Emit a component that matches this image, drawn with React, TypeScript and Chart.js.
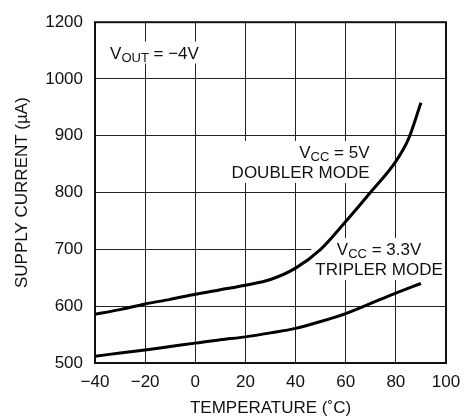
import React, { useEffect, useRef } from "react";
import { Chart, registerables } from "chart.js";

Chart.register(...registerables);

const doublerTemps = [-40, -30, -20, -10, 0, 10, 20, 30, 40, 50, 60, 70, 80, 85, 90];
const doublerCurrent = [586, 594, 604, 612, 621, 629, 637, 647, 667, 700, 749, 801, 855, 894, 958];
const triplerTemps = [-40, -30, -20, -10, 0, 10, 20, 30, 40, 50, 60, 70, 80, 90];
const triplerCurrent = [512, 517.5, 523, 529, 535, 541, 546, 553, 561, 573, 587, 605, 623, 640];

const xTickLabels = ["\u221240", "\u221220", "0", "20", "40", "60", "80", "100"];
const yTickLabels = ["500", "600", "700", "800", "900", "1000", "1200"];

const xTitle = "TEMPERATURE (\u02DAC)";
const yTitle = "SUPPLY CURRENT (\u00B5A)";

const FONT = "'Liberation Sans Narrow', 'Arial Narrow', 'Liberation Sans', sans-serif";

type Part = { t: string; sub?: boolean };
type Note = { x: number; y: number; align: "left" | "right" | "center"; lines: Part[][] };

const notes: Note[] = [
  { x: -34, y: 1036, align: "left", lines: [[{ t: "V" }, { t: "OUT", sub: true }, { t: " = \u22124V" }]] },
  {
    x: 69.5,
    y: 861,
    align: "right",
    lines: [[{ t: "V" }, { t: "CC", sub: true }, { t: " = 5V" }], [{ t: "DOUBLER MODE" }]],
  },
  {
    x: 73.3,
    y: 690,
    align: "center",
    lines: [[{ t: "V" }, { t: "CC", sub: true }, { t: " = 3.3V" }], [{ t: "TRIPLER MODE" }]],
  },
];

const MAIN = 17;
const SUB = 13;
const LINE_H = 20;

function partWidth(ctx: CanvasRenderingContext2D, parts: Part[]) {
  let w = 0;
  for (const p of parts) {
    ctx.font = `${p.sub ? SUB : MAIN}px ${FONT}`;
    w += ctx.measureText(p.t).width;
  }
  return w;
}

const notesPlugin = {
  id: "notes",
  beforeDatasetsDraw(chart: any) {
    const ctx: CanvasRenderingContext2D = chart.ctx;
    const xs = chart.scales.x;
    const ys = chart.scales.y;
    ctx.save();
    for (const n of notes) {
      const px = xs.getPixelForValue(n.x);
      const py = ys.getPixelForValue(n.y);
      const widths = n.lines.map((l) => partWidth(ctx, l));
      const maxW = Math.max(...widths);
      const left = n.align === "left" ? px : n.align === "right" ? px - maxW : px - maxW / 2;
      const top = py - 13 - 4;
      const bottom = py + (n.lines.length - 1) * LINE_H + 5;
      ctx.fillStyle = "#fff";
      ctx.fillRect(left - 4, top, maxW + 8, bottom - top);
      ctx.fillStyle = "#111";
      ctx.textBaseline = "alphabetic";
      ctx.textAlign = "left";
      n.lines.forEach((line, i) => {
        const w = widths[i];
        let x = n.align === "left" ? px : n.align === "right" ? px - w : px - w / 2;
        const y = py + i * LINE_H;
        for (const p of line) {
          ctx.font = `${p.sub ? SUB : MAIN}px ${FONT}`;
          ctx.fillText(p.t, x, p.sub ? y + 3 : y);
          x += ctx.measureText(p.t).width;
        }
      });
    }
    ctx.restore();
  },
  afterDraw(chart: any) {
    const ctx: CanvasRenderingContext2D = chart.ctx;
    const a = chart.chartArea;
    ctx.save();
    ctx.strokeStyle = "#111";
    ctx.lineWidth = 2;
    ctx.strokeRect(a.left, a.top, a.right - a.left, a.bottom - a.top);
    ctx.fillStyle = "#111";
    ctx.font = `${MAIN}px ${FONT}`;
    ctx.textAlign = "center";
    ctx.textBaseline = "middle";
    ctx.fillText(xTitle, (a.left + a.right) / 2, 408);
    ctx.translate(22, (a.top + a.bottom) / 2);
    ctx.rotate(-Math.PI / 2);
    ctx.fillText(yTitle, 0, 0);
    ctx.restore();
  },
};

export default function App() {
  const ref = useRef<HTMLCanvasElement>(null);
  useEffect(() => {
    if (!ref.current) return;
    const chart = new Chart(ref.current, {
      type: "line",
      data: {
        datasets: [
          {
            label: "VCC = 5V Doubler",
            data: doublerTemps.map((t, i) => ({ x: t, y: doublerCurrent[i] })),
            borderColor: "#000",
            borderWidth: 3,
            pointRadius: 0,
            cubicInterpolationMode: "monotone",
            fill: false,
          },
          {
            label: "VCC = 3.3V Tripler",
            data: triplerTemps.map((t, i) => ({ x: t, y: triplerCurrent[i] })),
            borderColor: "#000",
            borderWidth: 3,
            pointRadius: 0,
            cubicInterpolationMode: "monotone",
            fill: false,
          },
        ],
      },
      options: {
        responsive: false,
        animation: false,
        devicePixelRatio: 1,
        layout: { padding: { left: 0, top: 12, right: 30, bottom: 0 } },
        plugins: { legend: { display: false }, tooltip: { enabled: false } },
        scales: {
          x: {
            type: "linear",
            min: -40,
            max: 100,
            border: { display: false },
            grid: { color: "#222", lineWidth: 1, drawTicks: false },
            ticks: {
              stepSize: 20,
              padding: 9,
              color: "#111",
              font: { family: FONT, size: MAIN },
              maxRotation: 0,
              callback: (_v: any, i: number) => xTickLabels[i],
            },
            afterFit: (s: any) => {
              s.height = 55;
            },
          },
          y: {
            type: "linear",
            min: 500,
            max: 1100,
            border: { display: false },
            grid: { color: "#222", lineWidth: 1, drawTicks: false },
            ticks: {
              stepSize: 100,
              padding: 12,
              color: "#111",
              font: { family: FONT, size: MAIN },
              callback: (_v: any, i: number) => yTickLabels[i],
            },
            afterFit: (s: any) => {
              s.width = 95;
            },
          },
        },
      },
      plugins: [notesPlugin],
    } as any);
    return () => chart.destroy();
  }, []);
  return (
    <div style={{ position: "fixed", left: 0, top: 0, width: 476, height: 418, background: "#fff" }}>
      <canvas ref={ref} width={476} height={418} style={{ width: 476, height: 418 }} />
    </div>
  );
}
